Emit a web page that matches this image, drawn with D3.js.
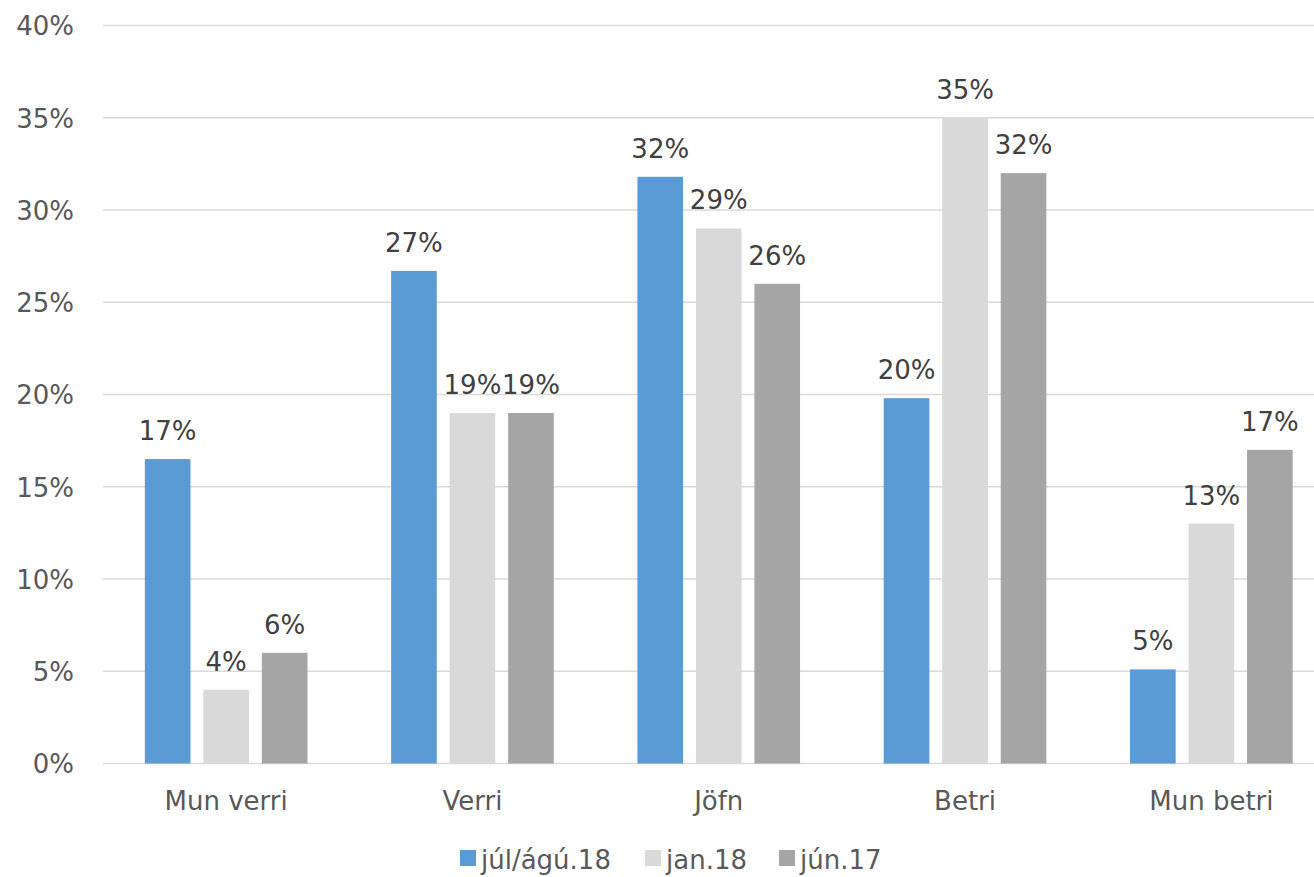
<!DOCTYPE html>
<html>
<head>
<meta charset="utf-8">
<script src="https://cdn.jsdelivr.net/npm/d3@7"></script>
<style>
  html, body { margin: 0; padding: 0; background: #fff; overflow: hidden; }
  svg { display: block; font-family: "DejaVu Sans", "Liberation Sans", sans-serif; }
</style>
</head>
<body>
<svg id="chart" width="1314" height="877"></svg>
<script>
// Survey answers per category, share of respondents (%)
const categories = ["Mun verri", "Verri", "Jöfn", "Betri", "Mun betri"];
const seriesNames = ["júl/ágú.18", "jan.18", "jún.17"];
const julAgu18 = [16.5, 26.7, 31.8, 19.8, 5.1];
const jan18 = [4, 19, 29, 35, 13];
const jun17 = [6, 19, 26, 32, 17];
const seriesValues = [julAgu18, jan18, jun17];
const yTicks = [0, 5, 10, 15, 20, 25, 30, 35, 40];

const colors = ["#5B9BD5", "#D9D9D9", "#A5A5A5"];

const svg = d3.select("#chart");
const W = 1314, H = 877;
const plot = { left: 103, right: 1334.5, top: 25.5, bottom: 763.5 };

const y = d3.scaleLinear().domain([0, 40]).range([plot.bottom, plot.top]);
const x0 = d3.scaleBand().domain(categories).range([plot.left, plot.right]).padding(0);
const x1 = d3.scaleBand().domain(seriesNames).range([0, x0.bandwidth()])
  .paddingInner(0.22).paddingOuter(0.715);
const color = d3.scaleOrdinal().domain(seriesNames).range(colors);
const pct = v => d3.format(".0f")(v) + "%";

// horizontal gridlines
svg.append("g")
  .selectAll("line")
  .data(yTicks)
  .join("line")
  .attr("x1", plot.left).attr("x2", W)
  .attr("y1", d => y(d)).attr("y2", d => y(d))
  .attr("stroke", "#D9D9D9").attr("stroke-width", 1.5);

// y axis labels
const yAxis = d3.axisLeft(y).tickValues(yTicks).tickFormat(d => d + "%").tickSize(0).tickPadding(0);
const gy = svg.append("g").attr("transform", "translate(74,0)").call(yAxis);
gy.select(".domain").remove();
gy.selectAll("text")
  .attr("font-family", "DejaVu Sans, Liberation Sans, sans-serif")
  .attr("font-size", 26).attr("fill", "#595959").attr("dy", "0.36em");

// category labels
const xAxis = d3.axisBottom(x0).tickSize(0).tickPadding(0);
const gx = svg.append("g").attr("transform", "translate(0,792)").call(xAxis);
gx.select(".domain").remove();
gx.selectAll("text")
  .attr("font-family", "DejaVu Sans, Liberation Sans, sans-serif")
  .attr("font-size", 26).attr("fill", "#595959").attr("dy", "0.71em");

// bars and value labels
const rows = categories.map((c, i) => ({
  category: c,
  values: seriesNames.map((s, j) => ({ series: s, value: seriesValues[j][i] }))
}));

const groups = svg.append("g")
  .selectAll("g")
  .data(rows)
  .join("g")
  .attr("transform", d => `translate(${x0(d.category)},0)`);

groups.selectAll("rect")
  .data(d => d.values)
  .join("rect")
  .attr("x", d => x1(d.series))
  .attr("width", x1.bandwidth())
  .attr("y", d => y(d.value))
  .attr("height", d => y(0) - y(d.value))
  .attr("fill", d => color(d.series));

groups.selectAll("text")
  .data(d => d.values)
  .join("text")
  .attr("x", d => x1(d.series) + x1.bandwidth() / 2)
  .attr("y", d => y(d.value) - 19)
  .attr("text-anchor", "middle")
  .attr("font-size", 26)
  .attr("fill", "#404040")
  .text(d => pct(d.value));

// legend
const legendX = [460, 645, 779];
const legend = svg.append("g")
  .selectAll("g")
  .data(seriesNames)
  .join("g")
  .attr("transform", (d, i) => `translate(${legendX[i]},0)`);
legend.append("rect")
  .attr("x", 0).attr("y", 850).attr("width", 16).attr("height", 16)
  .attr("fill", d => color(d));
legend.append("text")
  .attr("x", 21).attr("y", 869)
  .attr("font-size", 26).attr("fill", "#595959")
  .text(d => d);
</script>
</body>
</html>
